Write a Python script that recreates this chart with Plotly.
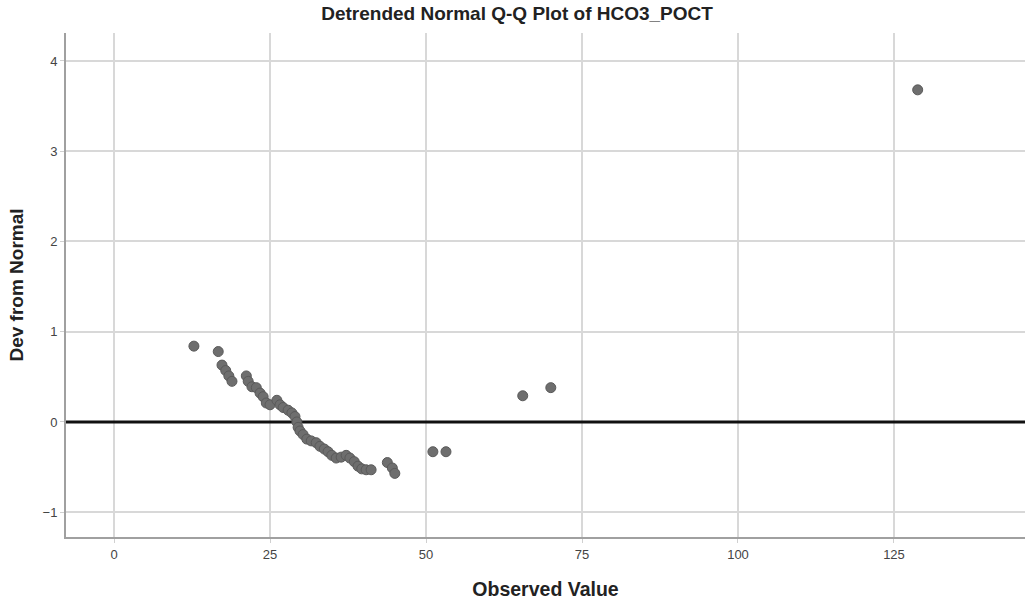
import plotly.graph_objects as go

# Observed HCO3_POCT values and their deviation from the normal line
observed = [12.8, 16.7, 17.3, 17.9, 18.4, 18.9, 21.2, 21.5, 22.1, 22.8,
            23.4, 23.9, 24.4, 25.0, 26.1, 26.6, 27.1, 27.9, 28.5, 29.0,
            29.3, 29.5, 29.8, 30.3, 30.9, 31.6, 32.4, 33.0, 33.7, 34.3,
            34.9, 35.6, 36.4, 37.2, 37.8, 38.5, 39.1, 39.7, 40.4, 41.2,
            43.8, 44.6, 45.0, 51.1, 53.2, 65.5, 70.0, 128.8]
deviation = [0.84, 0.78, 0.63, 0.57, 0.51, 0.45, 0.51, 0.45, 0.39, 0.38,
             0.32, 0.28, 0.21, 0.19, 0.24, 0.19, 0.16, 0.13, 0.10, 0.06,
             0.00, -0.06, -0.10, -0.14, -0.19, -0.21, -0.23, -0.27, -0.30, -0.33,
             -0.37, -0.40, -0.39, -0.37, -0.40, -0.44, -0.49, -0.52, -0.53, -0.53,
             -0.45, -0.51, -0.57, -0.33, -0.33, 0.29, 0.38, 3.68]

x_ticks = [0, 25, 50, 75, 100, 125]
y_ticks = [-1, 0, 1, 2, 3, 4]
x_range = [-7.7, 146.0]
y_range = [-1.275, 4.31]

fig = go.Figure()

# Reference line at zero deviation
fig.add_trace(go.Scatter(
    x=x_range, y=[0, 0], mode="lines",
    line=dict(color="#111111", width=3),
    hoverinfo="skip", showlegend=False,
))

fig.add_trace(go.Scatter(
    x=observed, y=deviation, mode="markers",
    marker=dict(size=10, color="#6e6e6e",
                line=dict(color="#5a5a5a", width=1)),
    showlegend=False,
))

font_family = "Liberation Sans, Arial, sans-serif"

fig.update_layout(
    width=1028, height=601,
    margin=dict(l=66, r=3, t=33, b=64),
    paper_bgcolor="white", plot_bgcolor="white",
    font=dict(family=font_family, color="#444444"),
    title=dict(
        text="<b>Detrended Normal Q-Q Plot of HCO3_POCT</b>",
        x=0.503, xanchor="center", y=0.977, yanchor="middle",
        font=dict(size=19, color="#222222", family=font_family),
    ),
    xaxis=dict(
        range=x_range, tickvals=x_ticks,
        showgrid=True, gridcolor="#d8d8d8", gridwidth=1.5,
        zeroline=False,
        showline=True, linecolor="#a0a0a0", linewidth=2,
        ticks="outside", ticklen=4, tickcolor="#d0d0d0",
        tickfont=dict(size=13, color="#444444", family=font_family),
        title=dict(text="<b>Observed Value</b>",
                   font=dict(size=19.5, color="#222222"), standoff=22),
    ),
    yaxis=dict(
        range=y_range, tickvals=y_ticks,
        showgrid=True, gridcolor="#d8d8d8", gridwidth=1.5,
        zeroline=False,
        showline=True, linecolor="#a0a0a0", linewidth=2,
        ticks="outside", ticklen=4, tickcolor="#d0d0d0",
        tickfont=dict(size=13, color="#444444", family=font_family),
        title=dict(text="<b>Dev from Normal</b>",
                   font=dict(size=19, color="#222222"), standoff=14),
    ),
)

fig.write_html("out.html")
